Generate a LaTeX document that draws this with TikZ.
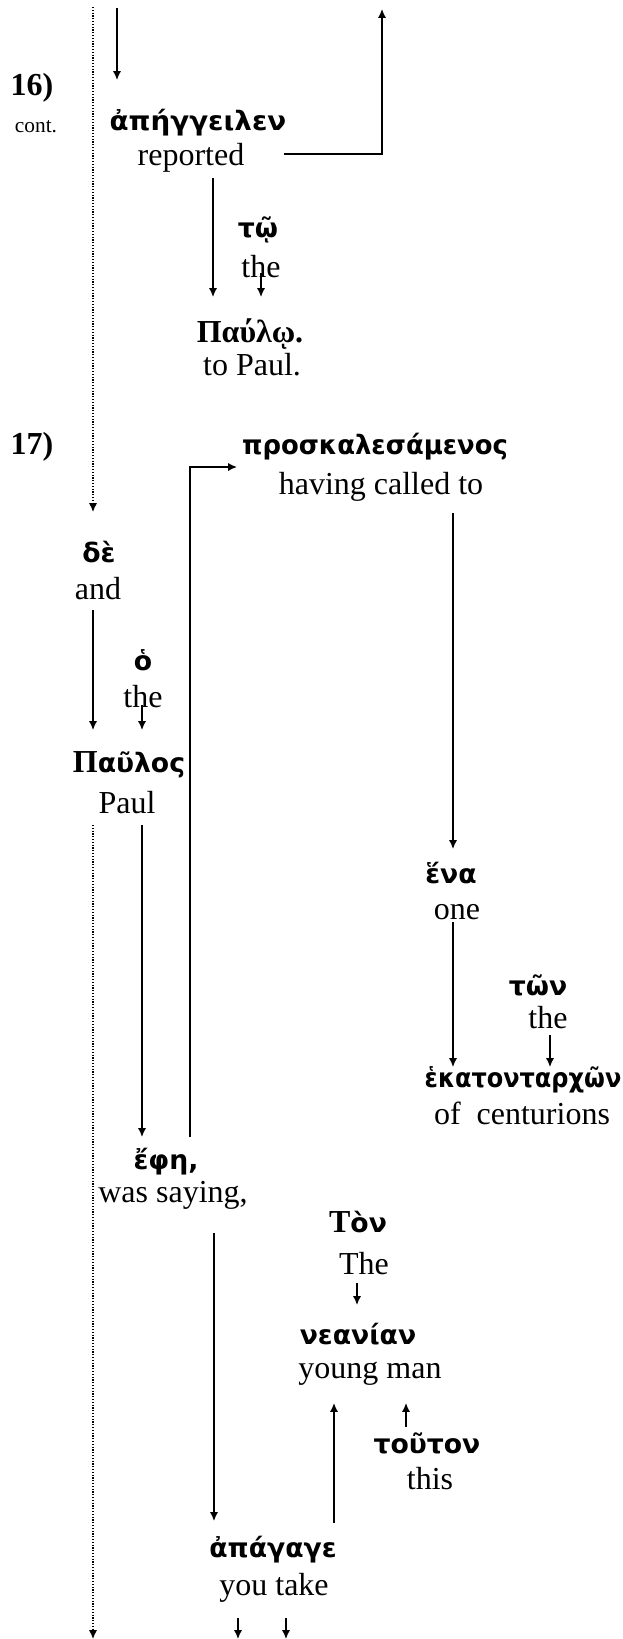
\documentclass[tikz,border=0pt]{standalone}
\usepackage{fontspec}
\setmainfont{Liberation Serif}
\newfontfamily\grkfont{DejaVu Sans}
\usetikzlibrary{arrows.meta,calc}
\newcommand{\gk}[1]{{\grkfont\bfseries\fontsize{10}{12}\selectfont #1}}
\begin{document}
\begin{tikzpicture}[x=0.375pt,y=-0.375pt,
  gr/.style={font=\bfseries\fontsize{12}{14}\selectfont, inner sep=0pt},
  en/.style={font=\fontsize{12}{14}\selectfont, inner sep=0pt},
  arr/.style={line width=0.5pt,-{Latex[length=3.3pt,width=3pt]}},
  dotline/.style={line width=0.45pt, dash pattern=on 0.45pt off 0.6pt, -{Latex[length=3.3pt,width=3pt]}}]
\useasboundingbox (0,0) rectangle (622,1639);
% verse numbers
\node[gr] (n16) at (32,88) {16)};
\node[en, font=\fontsize{8}{10}\selectfont] (ncont) at (36,127) {cont.};
\node[gr] (n17) at (32,447) {17)};
% words
\node[gr] (g1) at (198,123) {\scalebox{1.04}[1]{\gk{ἀπήγγειλεν}}};
\node[en] (e1) at (191,158) {reported};
\node[gr] (g2) at (258,230) {\gk{τῷ}};
\node[en] (e2) at (261,267) {the};
\node[gr] (g3) at (250,334) {Παύλῳ.};
\node[en] (e3) at (252,365) {to Paul.};
\node[gr] (g4) at (375,447) {\scalebox{0.97}[1]{\gk{προσκαλεσάμενος}}};
\node[en] (e4) at (381,487) {having called to};
\node[gr] (g5) at (99,552) {\gk{δὲ}};
\node[en] (e5) at (98,589) {and};
\node[gr] (g6) at (143,660) {\gk{ὁ}};
\node[en] (e6) at (143,697) {the};
\node[gr] (g7) at (129,765) {Π\gk{αῦλος}};
\node[en] (e7) at (127,803) {Paul};
\node[gr] (g8) at (451,873) {\gk{ἕνα}};
\node[en] (e8) at (457,912) {one};
\node[gr] (g9) at (538,985) {\gk{τῶν}};
\node[en] (e9) at (548,1018) {the};
\node[gr] (g10) at (523,1080) {\scalebox{0.9}[1]{\gk{ἑκατονταρχῶν}}};
\node[en] (e10) at (522,1113) {of\ \ centurions};
\node[gr] (g11) at (166,1162) {\gk{ἔφη,}};
\node[en] (e11) at (173,1195) {was saying,};
\node[gr] (g12) at (358,1222) {Τ\gk{ὸν}};
\node[en] (e12) at (364,1264) {The};
\node[gr] (g13) at (358,1334) {\gk{νεανίαν}};
\node[en] (e13) at (370,1374) {young man};
\node[gr] (g14) at (427,1443) {\gk{τοῦτον}};
\node[en] (e14) at (430,1479) {this};
\node[gr] (g15) at (273,1550) {\gk{ἀπάγαγε}};
\node[en] (e15) at (274,1588) {you take};
% free ends
\coordinate (topA) at (117,8);
\coordinate (topB) at (382,9);
\coordinate (dotTop) at (93,7);
\coordinate (dotBot) at (93,1639);
\coordinate (botA) at (238,1639);
\coordinate (botB) at (286,1639);
% connectors
\draw[arr] (topA) -- ($(g1)+(-81,-43)$);
\draw[arr] ($(e1)+(93,-4)$) -| (topB);
\draw[arr] ($(e1)+(22,20)$) -- ($(g3)+(-37,-37)$);
\draw[arr] ($(e2)+(0,6)$) -- ($(g3)+(11,-37)$);
\draw[dotline] (dotTop) -- ($(g5)+(-6,-40)$);
\draw[arr] ($(g11)+(24,-25)$) |- ($(g4)+(-138,20)$);
\draw[arr] ($(e4)+(72,26)$) -- ($(g8)+(2,-24)$);
\draw[arr] ($(e5)+(-5,21)$) -- ($(g7)+(-36,-35)$);
\draw[arr] ($(e6)+(-1,8)$) -- ($(g7)+(13,-35)$);
\draw[dotline] ($(e7)+(-34,22)$) -- (dotBot);
\draw[arr] ($(e7)+(15,22)$) -- ($(g11)+(-24,-25)$);
\draw[arr] ($(e8)+(-4,10)$) -- ($(g10)+(-70,-13)$);
\draw[arr] ($(e9)+(2,17)$) -- ($(g10)+(27,-13)$);
\draw[arr] ($(e11)+(41,38)$) -- ($(g15)+(-59,-29)$);
\draw[arr] ($(e12)+(-7,19)$) -- ($(g13)+(-1,-29)$);
\draw[arr] ($(g15)+(61,-27)$) -- ($(e13)+(-36,29)$);
\draw[arr] ($(g14)+(-21,-16)$) -- ($(e13)+(36,29)$);
\draw[arr] ($(e15)+(-36,30)$) -- (botA);
\draw[arr] ($(e15)+(12,30)$) -- (botB);
\end{tikzpicture}
\end{document}
